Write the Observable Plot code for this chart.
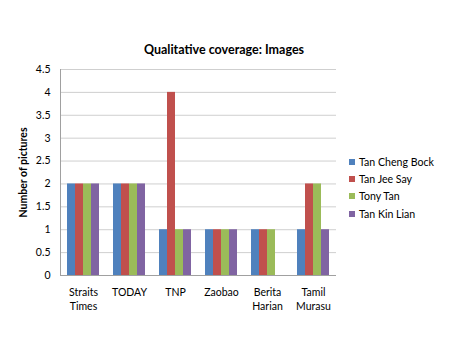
<!DOCTYPE html>
<html>
<head>
<meta charset="utf-8">
<script src="https://cdn.jsdelivr.net/npm/d3@7"></script>
<script src="https://cdn.jsdelivr.net/npm/@observablehq/plot@0.6"></script>
<style>
  body { margin: 0; background: #fff; font-family: Lato, "Open Sans", sans-serif; }
  #wrap { position: relative; width: 450px; height: 337px; }
  #title { position: absolute; left: 0; width: 448px; top: 42px; text-align: center; font-weight: bold; font-size: 12.5px; color: #000; }
  #legend { position: absolute; left: 349px; top: 153px; font-size: 10.6px; color: #000; }
  #legend .row { height: 17.3px; display: flex; align-items: center; }
  #legend .sw { width: 6px; height: 6px; margin-right: 4px; }
  svg g[aria-label="y-axis label"] text { font-weight: bold; }
</style>
</head>
<body>
<div id="wrap">
  <div id="title">Qualitative coverage: Images</div>
  <div id="legend"></div>
  <div id="chart"></div>
</div>
<script>
const papers = ["Straits Times", "TODAY", "TNP", "Zaobao", "Berita Harian", "Tamil Murasu"];
const paperLabels = ["Straits\nTimes", "TODAY", "TNP", "Zaobao", "Berita\nHarian", "Tamil\nMurasu"];
const candidates = ["Tan Cheng Bock", "Tan Jee Say", "Tony Tan", "Tan Kin Lian"];
const colors = ["#4F81BD", "#C0504D", "#9BBB59", "#8064A2"];
const tanChengBock = [2, 2, 1, 1, 1, 1];
const tanJeeSay    = [2, 2, 4, 1, 1, 2];
const tonyTan      = [2, 2, 1, 1, 1, 2];
const tanKinLian   = [2, 2, 1, 1, 0, 1];
const yTicks = [0, 0.5, 1, 1.5, 2, 2.5, 3, 3.5, 4, 4.5];

const series = [tanChengBock, tanJeeSay, tonyTan, tanKinLian];
const data = [];
papers.forEach((p, i) => {
  candidates.forEach((c, j) => data.push({paper: p, candidate: c, value: series[j][i]}));
});
const labelOf = Object.fromEntries(papers.map((p, i) => [p, paperLabels[i]]));

const chart = Plot.plot({
  width: 450,
  height: 337,
  marginTop: 69,
  marginBottom: 62,
  marginLeft: 57,
  marginRight: 112,
  style: {fontFamily: "Lato, 'Open Sans', sans-serif", fontSize: "10.5px", color: "#000"},
  fx: {domain: papers, padding: 0, label: null},
  x: {domain: candidates, paddingInner: 0, paddingOuter: 0.83, axis: null},
  y: {domain: [0, 4.5], ticks: yTicks, label: null},
  color: {domain: candidates, range: colors},
  marks: [
    Plot.gridY(yTicks, {stroke: "#cfcfcf", strokeOpacity: 1}),
    Plot.barY(data, {fx: "paper", x: "candidate", y: "value", fill: "candidate"}),
    Plot.ruleY([0], {stroke: "#a0a0a0"}),
    Plot.frame({anchor: "left", stroke: "#a0a0a0", facet: "super"}),
    Plot.axisY(yTicks, {tickSize: 0, tickPadding: 10, tickFormat: d => String(d), label: "Number of pictures", labelArrow: "none", labelAnchor: "center", labelOffset: 41, fontSize: 10.5}),
    Plot.axisFx({anchor: "bottom", tickSize: 0, tickPadding: 10, tickFormat: d => labelOf[d], lineHeight: 1.35, label: null, fontSize: 10.5})
  ]
});
document.getElementById("chart").appendChild(chart);

const legend = document.getElementById("legend");
candidates.forEach((c, j) => {
  const row = document.createElement("div");
  row.className = "row";
  row.innerHTML = `<span class="sw" style="background:${colors[j]}"></span><span>${c}</span>`;
  legend.appendChild(row);
});
</script>
</body>
</html>
